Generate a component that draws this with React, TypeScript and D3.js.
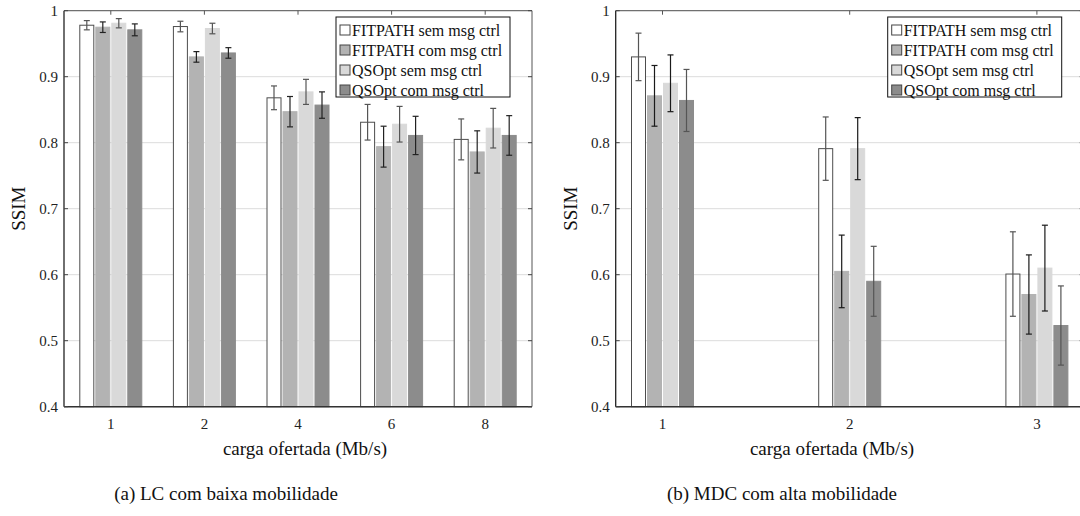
import React from 'react';
import * as d3 from 'd3';

// series (same order in both panels)
const seriesNames = ['FITPATH sem msg ctrl', 'FITPATH com msg ctrl', 'QSOpt sem msg ctrl', 'QSOpt com msg ctrl'];
const seriesFill = ['#ffffff', '#b3b3b3', '#d9d9d9', '#8c8c8c'];
const seriesStroke = ['#4d4d4d', '#b3b3b3', '#d9d9d9', '#8c8c8c'];

// (a) LC com baixa mobilidade
const lcLoads = ['1', '2', '4', '6', '8'];
const lcMeans = [
  [0.978, 0.976, 0.868, 0.831, 0.805],
  [0.975, 0.930, 0.847, 0.794, 0.786],
  [0.981, 0.973, 0.877, 0.828, 0.822],
  [0.971, 0.936, 0.857, 0.811, 0.811],
];
const lcErr = [
  [0.007, 0.008, 0.018, 0.027, 0.031],
  [0.008, 0.008, 0.023, 0.031, 0.032],
  [0.007, 0.008, 0.019, 0.027, 0.030],
  [0.009, 0.008, 0.020, 0.029, 0.030],
];
const lcErrColor = ['#555555', '#222222', '#555555', '#222222'];

// (b) MDC com alta mobilidade
const mdcLoads = [1, 2, 3];
const mdcMeans = [
  [0.930, 0.791, 0.601],
  [0.871, 0.605, 0.570],
  [0.890, 0.791, 0.610],
  [0.864, 0.590, 0.523],
];
const mdcErr = [
  [0.036, 0.048, 0.064],
  [0.046, 0.055, 0.060],
  [0.043, 0.047, 0.065],
  [0.047, 0.053, 0.060],
];
const mdcErrColor = ['#555555', '#1a1a1a', '#1a1a1a', '#555555'];

const yTicks = [0.4, 0.5, 0.6, 0.7, 0.8, 0.9, 1];

const W = 1080;
const H = 516;
const top = 10.7;
const bottom = 406.7;
const barW = 14;
const barStep = 16;
const serif = "'Times New Roman', Tinos, 'Liberation Serif', 'Nimbus Roman', Times, serif";

const y = d3.scaleLinear().domain([0.4, 1]).range([bottom, top]);
const fmt = d3.format('~g');

interface PanelProps {
  left: number;
  right: number;
  centers: number[];
  tickLabels: string[];
  means: number[][];
  errs: number[][];
  errColors: string[];
  legendRight: number;
  xLabelX: number;
  yLabelX: number;
}

function Panel(p: PanelProps) {
  return (
    <g>
      {/* grid */}
      {yTicks.map(t => (
        <line key={'g' + t} x1={p.left} x2={p.right} y1={y(t)} y2={y(t)} stroke="#dcdcdc" strokeWidth={1} />
      ))}
      {/* bars */}
      {p.means.map((row, s) =>
        row.map((v, i) => {
          const cx = p.centers[i] + (s - 1.5) * barStep;
          return (
            <rect
              key={`b${s}-${i}`}
              x={cx - barW / 2}
              y={y(v)}
              width={barW}
              height={bottom - y(v)}
              fill={seriesFill[s]}
              stroke={seriesStroke[s]}
              strokeWidth={1}
            />
          );
        })
      )}
      {/* error bars */}
      {p.means.map((row, s) =>
        row.map((v, i) => {
          const cx = p.centers[i] + (s - 1.5) * barStep;
          const e = p.errs[s][i];
          return (
            <g key={`e${s}-${i}`} stroke={p.errColors[s]} strokeWidth={1.2}>
              <line x1={cx} x2={cx} y1={y(v + e)} y2={y(v - e)} />
              <line x1={cx - 3} x2={cx + 3} y1={y(v + e)} y2={y(v + e)} />
              <line x1={cx - 3} x2={cx + 3} y1={y(v - e)} y2={y(v - e)} />
            </g>
          );
        })
      )}
      {/* frame */}
      <line x1={p.left} x2={p.right} y1={top} y2={top} stroke="#555" strokeWidth={1} />
      <line x1={p.right} x2={p.right} y1={top} y2={bottom} stroke="#555" strokeWidth={1} />
      <line x1={p.left} x2={p.left} y1={top} y2={bottom} stroke="#222" strokeWidth={1.3} />
      <line x1={p.left} x2={p.right} y1={bottom} y2={bottom} stroke="#333" strokeWidth={1.6} />
      {/* ticks */}
      {yTicks.map(t => (
        <g key={'t' + t}>
          <line x1={p.left} x2={p.left + 4} y1={y(t)} y2={y(t)} stroke="#444" />
          <line x1={p.right - 4} x2={p.right} y1={y(t)} y2={y(t)} stroke="#444" />
          <text x={p.left - 6} y={y(t)} dy="0.35em" textAnchor="end" fontSize={15} fill="#222">
            {fmt(t)}
          </text>
        </g>
      ))}
      {p.centers.map((c, i) => (
        <g key={'x' + i}>
          <line x1={c} x2={c} y1={top} y2={top + 4} stroke="#555" />
          <text x={c} y={424} dy="0.35em" textAnchor="middle" fontSize={15} fill="#222">
            {p.tickLabels[i]}
          </text>
        </g>
      ))}
      {/* axis labels */}
      <text x={p.xLabelX} y={448} dy="0.35em" textAnchor="middle" fontSize={19} fill="#111">
        carga ofertada (Mb/s)
      </text>
      <text
        transform={`translate(${p.yLabelX},${(top + bottom) / 2}) rotate(-90)`}
        dy="0.35em"
        textAnchor="middle"
        fontSize={19}
        fill="#111"
      >
        SSIM
      </text>
      {/* legend */}
      <g transform={`translate(${p.legendRight - 174},17)`}>
        <rect x={0} y={0} width={174} height={80} fill="#fff" stroke="#111" strokeWidth={1} />
        {seriesNames.map((n, s) => (
          <g key={n} transform={`translate(4,${13 + s * 20})`}>
            <rect x={0} y={-5} width={10} height={10} fill={seriesFill[s]} stroke="#444" strokeWidth={1} />
            <text x={12} y={0} dy="0.35em" fontSize={16} fill="#111">
              {n}
            </text>
          </g>
        ))}
      </g>
    </g>
  );
}

export default function App() {
  const xa = d3.scaleBand<string>().domain(lcLoads).range([64, 532]).padding(0);
  const xb = d3.scaleLinear().domain([0.75, 3.25]).range([615.7, 1083.7]);

  return (
    <svg
      width={W}
      height={H}
      style={{ position: 'absolute', left: 0, top: 0, background: '#fff' }}
    >
      <rect width={W} height={H} fill="#fff" />
      <g style={{ fontFamily: serif }}>
        <Panel
          left={64}
          right={532}
          centers={lcLoads.map(d => (xa(d) ?? 0) + xa.bandwidth() / 2)}
          tickLabels={lcLoads}
          means={lcMeans}
          errs={lcErr}
          errColors={lcErrColor}
          legendRight={510}
          xLabelX={305}
          yLabelX={18}
        />
        <Panel
          left={615.7}
          right={1083.7}
          centers={mdcLoads.map(d => xb(d))}
          tickLabels={mdcLoads.map(String)}
          means={mdcMeans}
          errs={mdcErr}
          errColors={mdcErrColor}
          legendRight={1061.7}
          xLabelX={832}
          yLabelX={570}
        />
        <text x={226} y={493} dy="0.35em" textAnchor="middle" fontSize={19} fill="#111">
          (a) LC com baixa mobilidade
        </text>
        <text x={782} y={493} dy="0.35em" textAnchor="middle" fontSize={19} fill="#111">
          (b) MDC com alta mobilidade
        </text>
      </g>
    </svg>
  );
}
